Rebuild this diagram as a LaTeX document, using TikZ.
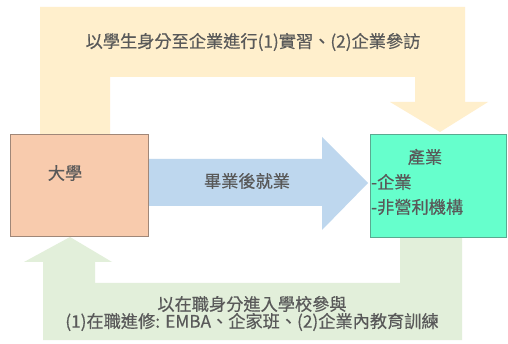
\documentclass[tikz,border=0pt]{standalone}
\usepackage{fontspec}
\setmainfont{Noto Sans CJK TC}[FakeBold=0.5]
\definecolor{yel}{RGB}{255,239,204}
\definecolor{blu}{RGB}{190,215,238}
\definecolor{grn}{RGB}{226,239,218}
\definecolor{org}{RGB}{248,203,173}
\definecolor{orgb}{RGB}{160,135,120}
\definecolor{aqua}{RGB}{102,255,204}
\definecolor{aquab}{RGB}{90,170,145}
\definecolor{txt}{RGB}{89,89,89}
\begin{document}
\begin{tikzpicture}[x=1pt,y=-1pt,
  lbl/.style={text=txt,font=\fontsize{17.2}{20}\selectfont,inner sep=0pt},
  boxa/.style={draw=orgb,fill=org,line width=1.2pt},
  boxb/.style={draw=aquab,fill=aqua,line width=1.2pt}]
\useasboundingbox (0,0) rectangle (508,344);
\fill[white] (0,0) rectangle (508,344);
% yellow bent arrow
\fill[yel] (40,136) -- (40,7) -- (465,7) -- (465,102) -- (488,102) -- (440,132) -- (390,102) -- (415,102) -- (415,77) -- (110,77) -- (110,136) -- cycle;
% green bent arrow
\fill[grn] (400,236) -- (462,236) -- (462,340) -- (43,340) -- (43,262) -- (24,262) -- (70,237) -- (112,262) -- (95,262) -- (95,283) -- (400,283) -- cycle;
% blue arrow
\fill[blu] (148,159) -- (322,159) -- (322,137) -- (368,183) -- (322,230) -- (322,206) -- (148,206) -- cycle;
% boxes
\node[boxa,minimum width=138pt,minimum height=102pt,anchor=north west] (uni) at (10,134) {};
\node[boxb,minimum width=136pt,minimum height=103pt,anchor=north west] (ind) at (370,134) {};
\node[lbl] (unit) at (65,173) {大學};
\node[lbl] (grad) at (247,181) {畢業後就業};
\node[lbl] (indt) at (425,157) {產業};
\node[lbl,anchor=west] (ind1) at (371,182) {-企業};
\node[lbl,anchor=west] (ind2) at (371,207) {-非營利機構};
\node[lbl] (top) at (253,42) {以學生身分至企業進行(1)實習、(2)企業參訪};
\node[lbl] (bot1) at (252,304) {以在職身分進入學校參與};
\node[lbl] (bot2) at (252,322) {(1)在職進修: EMBA、企家班、(2)企業內教育訓練};
\end{tikzpicture}
\end{document}
